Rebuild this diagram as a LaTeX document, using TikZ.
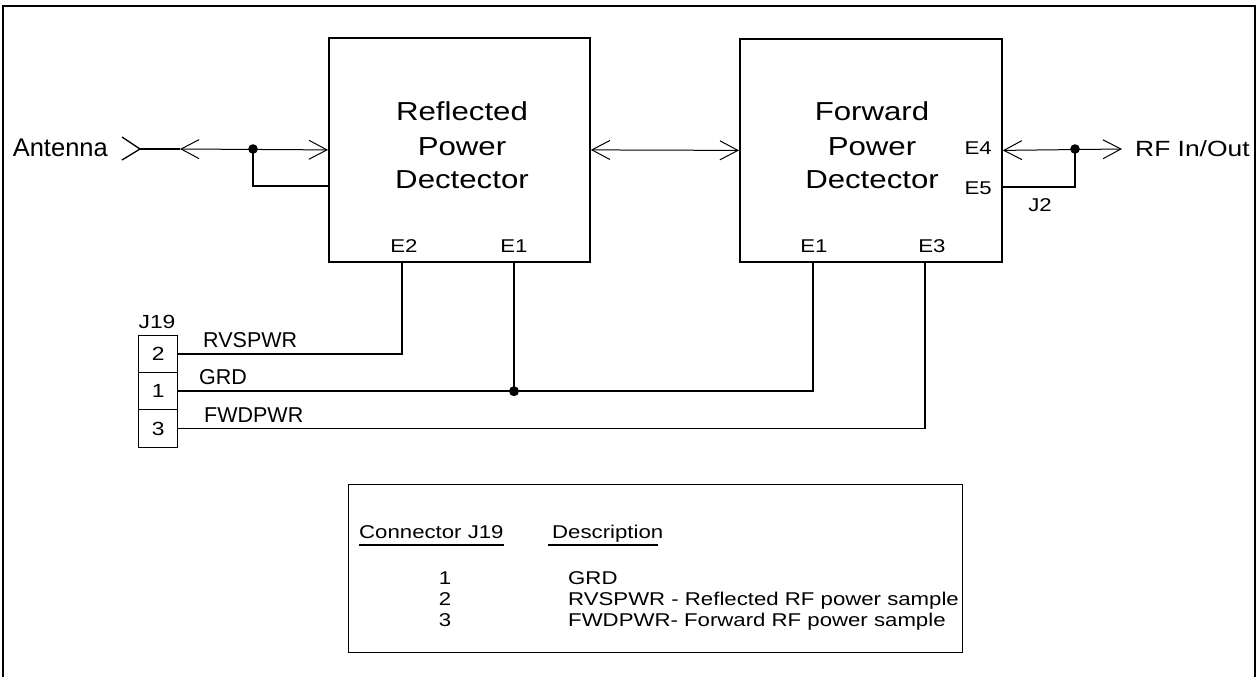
\documentclass[tikz,border=0pt]{standalone}
\usepackage{fontspec}
\setmainfont{Liberation Sans}
\newfontfamily\wf[FakeStretch=1.2]{Liberation Sans}
\usetikzlibrary{arrows.meta,calc}

\tikzset{
  blk/.style={draw, line width=1.8pt, inner sep=0pt, anchor=north west},
  pincell/.style={draw, line width=1.4pt, inner sep=0pt, anchor=north west,
    minimum width=39pt, font=\wf\fontsize{19}{22}\selectfont},
  title/.style={anchor=base, inner sep=0pt, font=\wf\fontsize{26}{30}\selectfont},
  elabel/.style={inner sep=0pt, font=\wf\fontsize{18.5}{21}\selectfont},
  wirelabel/.style={anchor=base west, inner sep=0pt, font=\fontsize{21.5}{25}\selectfont},
  tbltext/.style={inner sep=0pt, font=\wf\fontsize{18.5}{22}\selectfont},
  wire/.style={line width=1.5pt},
  biarrow/.style={line width=1pt,
    {Straight Barb[length=18pt,width=19pt]}-{Straight Barb[length=18pt,width=19pt]}},
  junction/.style={fill=black},
}

\begin{document}
\begin{tikzpicture}[x=1pt,y=-1pt]
\useasboundingbox (0,0) rectangle (1257,677);

% outer frame
\draw[line width=2pt] (3,677) -- (3,6) -- (1255,6) -- (1255,677);

% detector blocks
\node[blk, minimum width=261pt, minimum height=224pt] (refl) at (328,37) {};
\node[blk, minimum width=262pt, minimum height=223pt] (fwd) at (739,38) {};

\node[title] (rt1) at (462,120) {Reflected};
\node[title] (rt2) at (462,155) {Power};
\node[title] (rt3) at (462,188) {Dectector};
\node[title] (ft1) at (872,120) {Forward};
\node[title] (ft2) at (872,155) {Power};
\node[title] (ft3) at (872,188) {Dectector};

% terminal labels
\node[elabel, anchor=base] (lrE2) at (404,252) {E2};
\node[elabel, anchor=base] (lrE1) at (514,252) {E1};
\node[elabel, anchor=base] (lfE1) at (814,252) {E1};
\node[elabel, anchor=base] (lfE3) at (932,252) {E3};
\node[elabel, anchor=base east] (lfE4) at (992,154) {E4};
\node[elabel, anchor=base east] (lfE5) at (992,194) {E5};
\node[elabel, anchor=base] (lJ2) at (1040,211) {J2};

% terminal points
\coordinate (rE2) at (402,261);
\coordinate (rE1) at (514,261);
\coordinate (fE1) at (813,261);
\coordinate (fE3) at (925,261);
\coordinate (fE5) at (1001,187);

% antenna side
\node[anchor=base east, inner sep=0pt, font=\fontsize{25.5}{30}\selectfont] (ant) at (108,156) {Antenna};
\coordinate (antTip) at (140,149);
\coordinate (antArr) at (180,149);
\coordinate (dotL) at (253,149);
\coordinate (rStub) at (328,186);
\draw[line width=1.3pt] (122,137) -- (antTip) -- (122,160);
\draw[wire] (antTip) -- (antArr);
\draw[biarrow] (antArr) -- (refl.west);
\draw[wire] (dotL) |- (rStub);
\fill[junction] (dotL) circle (4.8);

% link between the detectors
\draw[biarrow] (refl.east) -- (fwd.west);

% RF in/out side
\coordinate (dotR) at (1075,149);
\coordinate (rfTip) at (1122,149);
\draw[biarrow] (fwd.east) -- (rfTip);
\draw[wire] (dotR) |- (fE5);
\fill[junction] (dotR) circle (4.8);
\node[anchor=base west, inner sep=0pt, font=\wf\fontsize{22}{26}\selectfont] (rf) at (1135,156) {RF In/Out};

% connector J19
\node[anchor=base, inner sep=0pt, font=\wf\fontsize{19}{22}\selectfont] (j19) at (157,328) {J19};
\node[pincell, minimum height=37pt] (pin2) at (138,335) {2};
\node[pincell, minimum height=37pt] (pin1) at (138,372) {1};
\node[pincell, minimum height=38pt] (pin3) at (138,409) {3};

\node[wirelabel] (wRV) at (203,347) {RVSPWR};
\node[wirelabel] (wGR) at (199,384) {GRD};
\node[wirelabel] (wFW) at (204,422) {FWDPWR};

\draw[wire] (pin2.east) -| (rE2);
\draw[wire] (pin1.east) -| (fE1);
\coordinate (gj) at (rE1 |- pin1.east);
\draw[wire] (rE1) -- (gj);
\fill[junction] (gj) circle (5);
\draw[wire] (pin3.east) -| (fE3);

% pin table
\node[blk, line width=1.4pt, minimum width=614pt, minimum height=168pt] (tbl) at (348,484) {};
\node[tbltext, anchor=base west] (hC) at (359,538) {Connector J19};
\node[tbltext, anchor=base west] (hD) at (552,538) {Description};
\draw[line width=1.2pt] (hC.south west |- 0,545) -- (hC.south east |- 0,545);
\draw[line width=1.2pt] (548,545) -- (658,545);
\node[tbltext, anchor=base] (n1) at (445,584) {1};
\node[tbltext, anchor=base] (n2) at (445,605) {2};
\node[tbltext, anchor=base] (n3) at (445,626) {3};
\node[tbltext, anchor=base west] (d1) at (568,584) {GRD};
\node[tbltext, anchor=base west] (d2) at (568,605) {RVSPWR - Reflected RF power sample};
\node[tbltext, anchor=base west] (d3) at (568,626) {FWDPWR- Forward RF power sample};
\end{tikzpicture}
\end{document}
